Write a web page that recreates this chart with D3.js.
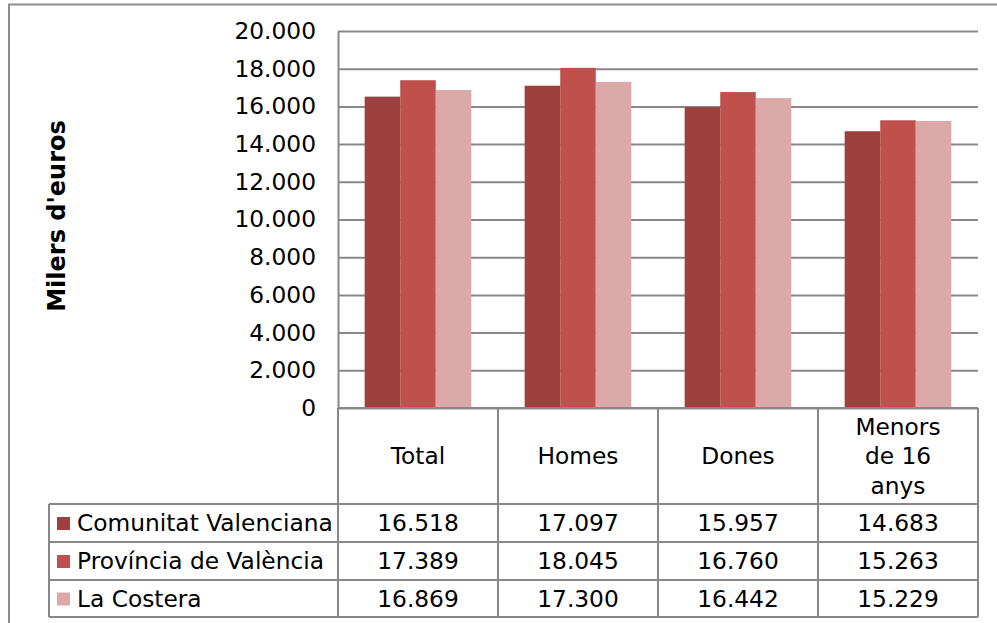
<!DOCTYPE html>
<html>
<head>
<meta charset="utf-8">
<script src="https://cdn.jsdelivr.net/npm/d3@7"></script>
<style>
    body { margin: 0; background: #fff; }
    text { font-family: Verdana, "DejaVu Sans", sans-serif; fill: #000; }
</style>
</head>
<body>
<div id="chart"></div>
<script>
// Data
const CATEGORIES = ["Total", "Homes", "Dones", "Menors de 16 anys"];
const CATEGORY_LINES = [["Total"], ["Homes"], ["Dones"], ["Menors", "de 16", "anys"]];
const SERIES = ["Comunitat Valenciana", "Província de València", "La Costera"];
const VALUES_CV = [16518, 17097, 15957, 14683];
const VALUES_PV = [17389, 18045, 16760, 15263];
const VALUES_LC = [16869, 17300, 16442, 15229];
const Y_TICKS = [0, 2000, 4000, 6000, 8000, 10000, 12000, 14000, 16000, 18000, 20000];
const Y_LABEL = "Milers d'euros";

const COLORS = ["#9d403e", "#c0504d", "#dba9a8"];
const width = 997;
const height = 623;
const plot = {left: 338, right: 978, top: 31, bottom: 408};
const rowTops = [504, 542, 580, 617];
const legendLeft = 49;
const gridColor = "#888";
const fontSize = 23.3;

const locale = d3.formatLocale({decimal: ",", thousands: ".", grouping: [3], currency: ["", " €"]});
const fmt = locale.format(",d");

const seriesValues = [VALUES_CV, VALUES_PV, VALUES_LC];
const rows = CATEGORIES.map((c, i) => ({cat: c, values: seriesValues.map(s => s[i])}));

const svg = d3.select("#chart")
    .append("svg")
    .attr("width", width)
    .attr("height", height);

// outer frame
svg.append("rect")
    .attr("x", 9).attr("y", 4.5)
    .attr("width", width + 10).attr("height", height + 10)
    .attr("fill", "none")
    .attr("stroke", "#8c8c8c")
    .attr("stroke-width", 2);

const x0 = d3.scaleBand()
    .domain(CATEGORIES)
    .range([plot.left, plot.right]);

const x1 = d3.scaleBand()
    .domain(SERIES)
    .range([0, x0.bandwidth()])
    .paddingOuter(0.75);

const y = d3.scaleLinear()
    .domain([0, 20000])
    .range([plot.bottom, plot.top]);

// gridlines
svg.append("g")
    .attr("class", "grid")
    .attr("transform", `translate(${plot.left}, 0)`)
    .call(d3.axisRight(y).tickValues(Y_TICKS).tickSize(plot.right - plot.left).tickFormat(""))
    .call(g => g.select(".domain").remove())
    .call(g => g.selectAll("line").attr("stroke", gridColor).attr("stroke-width", 2));

// y axis labels
svg.append("g")
    .attr("class", "y axis")
    .attr("transform", `translate(${plot.left}, 0)`)
    .call(d3.axisLeft(y).tickValues(Y_TICKS).tickSize(0).tickPadding(22).tickFormat(fmt))
    .call(g => g.select(".domain").attr("stroke", gridColor).attr("stroke-width", 2))
    .call(g => g.selectAll("text")
        .style("font-family", "Verdana, 'DejaVu Sans', sans-serif")
        .style("font-size", fontSize + "px")
        .attr("fill", "#000"));

svg.append("text")
    .attr("transform", `translate(65, 216) rotate(-90)`)
    .attr("text-anchor", "middle")
    .style("font-size", "24px")
    .style("font-weight", "bold")
    .text(Y_LABEL);

// bars
const groups = svg.append("g")
    .selectAll("g")
    .data(rows)
    .join("g")
    .attr("transform", d => `translate(${x0(d.cat)}, 0)`);

groups.selectAll("rect")
    .data(d => d.values.map((v, i) => ({series: SERIES[i], value: v, i})))
    .join("rect")
    .attr("x", d => x1(d.series))
    .attr("y", d => y(d.value))
    .attr("width", x1.bandwidth())
    .attr("height", d => y(0) - y(d.value))
    .attr("fill", d => COLORS[d.i]);

// data table
const table = svg.append("g").attr("class", "table");
const lineStyle = s => s.attr("stroke", gridColor).attr("stroke-width", 2).attr("fill", "none");

// vertical lines for category columns
const colEdges = CATEGORIES.map(c => x0(c)).concat([plot.right]);
table.selectAll("line.v")
    .data(colEdges)
    .join("line")
    .attr("class", "v")
    .attr("x1", d => d).attr("x2", d => d)
    .attr("y1", plot.bottom).attr("y2", rowTops[rowTops.length - 1])
    .call(lineStyle);

// legend column left border
table.append("line")
    .attr("x1", legendLeft).attr("x2", legendLeft)
    .attr("y1", rowTops[0]).attr("y2", rowTops[rowTops.length - 1])
    .call(lineStyle);

// horizontal lines
table.append("line")
    .attr("x1", plot.left).attr("x2", plot.right)
    .attr("y1", plot.bottom).attr("y2", plot.bottom)
    .call(lineStyle);
table.selectAll("line.h")
    .data(rowTops)
    .join("line")
    .attr("class", "h")
    .attr("x1", legendLeft).attr("x2", plot.right)
    .attr("y1", d => d).attr("y2", d => d)
    .call(lineStyle);

// header labels
const headerMid = (plot.bottom + rowTops[0]) / 2;
const lineH = 29.5;
CATEGORIES.forEach((c, i) => {
    const lines = CATEGORY_LINES[i];
    const t = table.append("text")
        .attr("text-anchor", "middle")
        .style("font-size", fontSize + "px");
    lines.forEach((l, j) => {
        t.append("tspan")
            .attr("x", x0(c) + x0.bandwidth() / 2)
            .attr("y", headerMid + (j - (lines.length - 1) / 2) * lineH)
            .attr("dy", "0.35em")
            .text(l);
    });
});

// series rows
SERIES.forEach((s, si) => {
    const top = rowTops[si];
    const mid = (top + rowTops[si + 1]) / 2;
    table.append("rect")
        .attr("x", 57).attr("y", mid - 6)
        .attr("width", 13).attr("height", 13)
        .attr("fill", COLORS[si]);
    table.append("text")
        .attr("x", 77).attr("y", mid)
        .attr("dy", "0.35em")
        .style("font-size", fontSize + "px")
        .text(s);
    seriesValues[si].forEach((v, ci) => {
        table.append("text")
            .attr("x", x0(CATEGORIES[ci]) + x0.bandwidth() / 2)
            .attr("y", mid)
            .attr("dy", "0.35em")
            .attr("text-anchor", "middle")
            .style("font-size", fontSize + "px")
            .text(fmt(v));
    });
});
</script>
</body>
</html>
